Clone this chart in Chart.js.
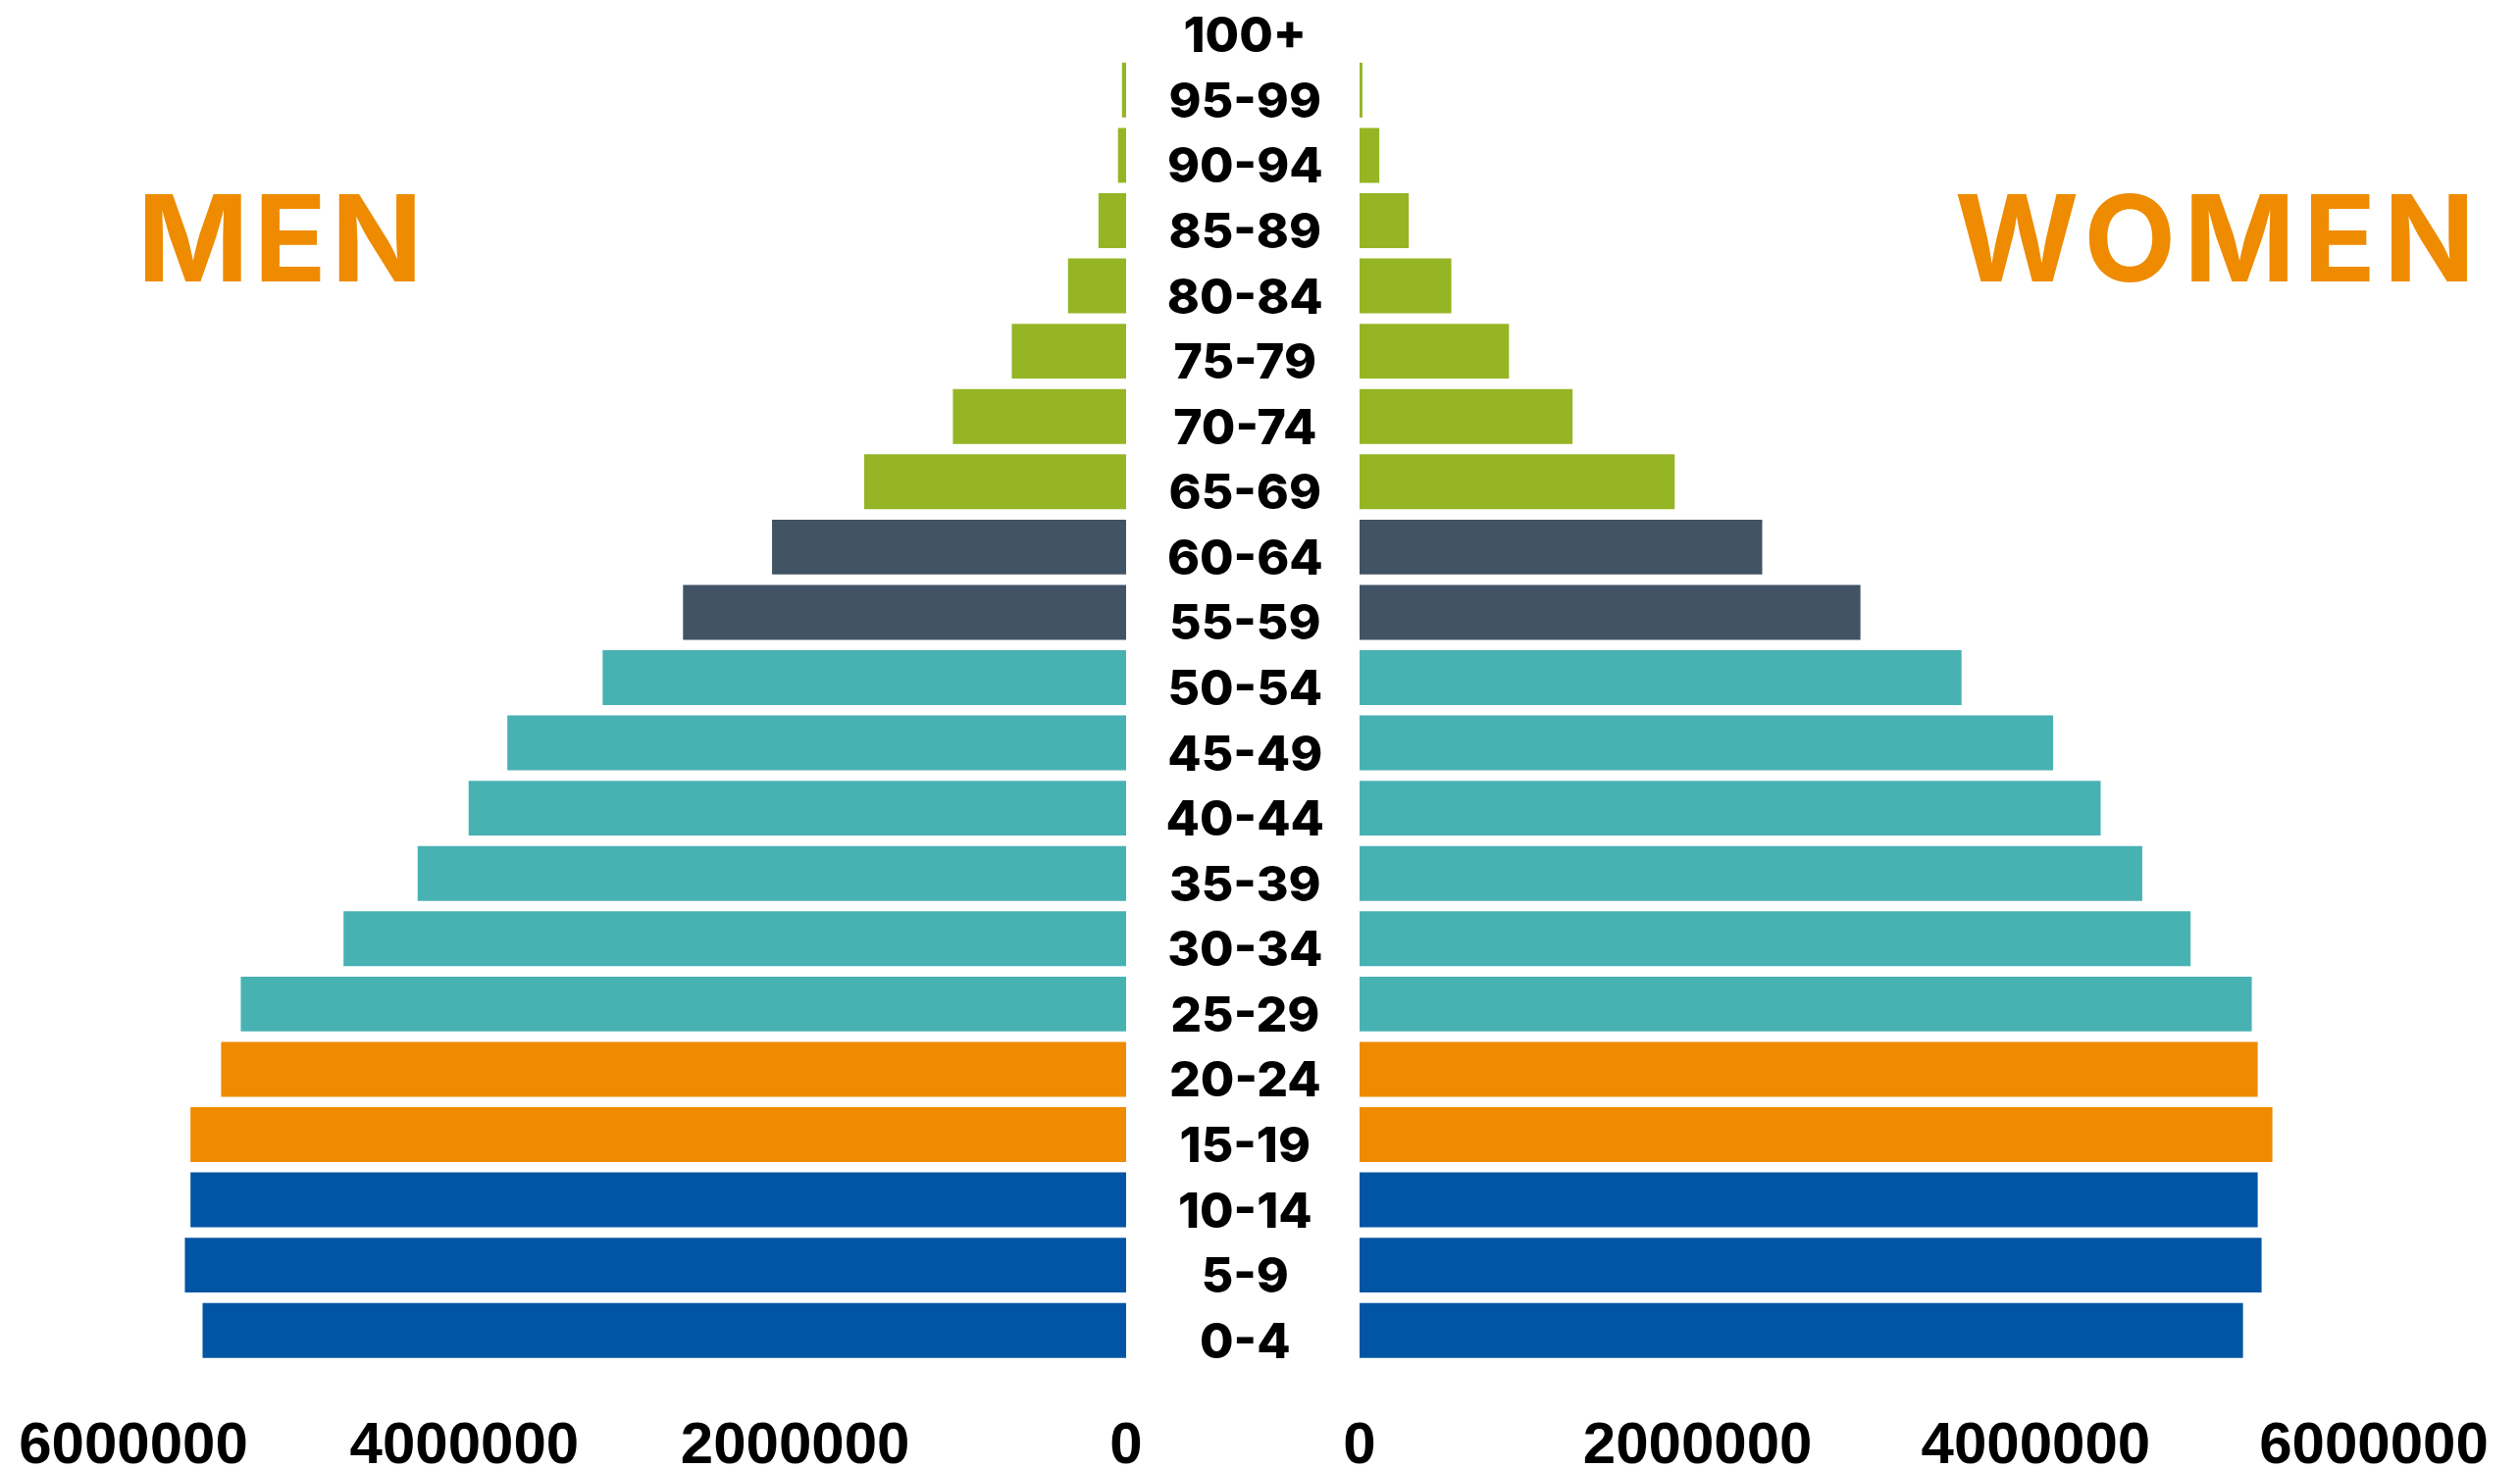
<!DOCTYPE html>
<html>
<head>
<meta charset="utf-8">
<title>Population pyramid</title>
<script src="https://cdn.jsdelivr.net/npm/chart.js@4.4.1/dist/chart.umd.min.js"></script>
<style>
  html, body { margin: 0; padding: 0; background: #fff; overflow: hidden; }
  #wrap { position: relative; width: 2569px; height: 1497px; }
  #menChart { position: absolute; left: 0; top: -8px; }
  #womenChart { position: absolute; left: 1146px; top: -8px; }
</style>
</head>
<body>
<div id="wrap">
  <canvas id="menChart" width="1170" height="1505"></canvas>
  <canvas id="womenChart" width="1423" height="1505"></canvas>
</div>
<script>
// age groups, oldest first (top of the pyramid)
const ages = ['100+', '95-99', '90-94', '85-89', '80-84', '75-79', '70-74', '65-69', '60-64',
  '55-59', '50-54', '45-49', '40-44', '35-39', '30-34', '25-29', '20-24', '15-19', '10-14', '5-9', '0-4'];

const men = [0, 25000, 49000, 167000, 351000, 691000, 1047000, 1583000, 2140000,
  2678000, 3164000, 3740000, 3974000, 4282000, 4730000, 5351000, 5470000, 5655000, 5655000, 5689000, 5582000];

const women = [0, 17000, 117000, 291000, 543000, 884000, 1260000, 1864000, 2382000,
  2963000, 3561000, 4103000, 4384000, 4630000, 4916000, 5278000, 5313000, 5400000, 5313000, 5336000, 5226000];

const axisTicks = [0, 2000000, 4000000, 6000000];

// colour by life stage
const GREEN = '#95B524', SLATE = '#415364', TEAL = '#48B2B3', ORANGE = '#EE8B00', BLUE = '#0255A3';
const barColours = ages.map((a, i) => {
  if (i <= 7) return GREEN;
  if (i <= 9) return SLATE;
  if (i <= 15) return TEAL;
  if (i <= 17) return ORANGE;
  return BLUE;
});

const tickFont = { family: '"Liberation Sans", Arial, sans-serif', size: 60, weight: 'bold' };
const ageFont = { family: 'Inter, "Noto Sans", sans-serif', size: 50, weight: '800' };

// draws the big MEN / WOMEN headings
const headingPlugin = {
  id: 'heading',
  afterDraw(chart, args, opts) {
    const ctx = chart.ctx;
    ctx.save();
    ctx.font = '700 122px Inter, "Noto Sans", sans-serif';
    ctx.letterSpacing = opts.spacing;
    ctx.fillStyle = ORANGE;
    ctx.textBaseline = 'alphabetic';
    ctx.textAlign = opts.align;
    ctx.fillText(opts.text, opts.x, opts.y);
    ctx.restore();
  }
};

function xAxis(reverse) {
  return {
    type: 'linear',
    reverse: reverse,
    min: 0,
    max: 6000000,
    afterBuildTicks: (scale) => { scale.ticks = axisTicks.map(v => ({ value: v })); },
    afterFit: (scale) => {
      scale.height = 107;
      // plot edges come from layout padding only
      scale.paddingLeft = 0;
      scale.paddingRight = 0;
    },
    grid: { display: false, drawTicks: false },
    border: { display: false },
    ticks: {
      color: '#000',
      font: tickFont,
      padding: 49,
      maxRotation: 0,
      callback: v => String(v)
    }
  };
}

function dataset(values) {
  return {
    data: values,
    backgroundColor: barColours,
    borderWidth: 0,
    barPercentage: 0.84,
    categoryPercentage: 1
  };
}

const menChart = new Chart(document.getElementById('menChart'), {
  type: 'bar',
  data: { labels: ages, datasets: [dataset(men)] },
  options: {
    indexAxis: 'y',
    responsive: false,
    animation: false,
    layout: { padding: { left: 136, right: 22, top: 0, bottom: 0 } },
    plugins: {
      legend: { display: false },
      tooltip: { enabled: false },
      heading: { text: 'MEN', x: 140, y: 295, align: 'left', spacing: '5px' }
    },
    scales: {
      x: xAxis(true),
      y: { display: false, grid: { display: false } }
    }
  },
  plugins: [headingPlugin]
});

const womenChart = new Chart(document.getElementById('womenChart'), {
  type: 'bar',
  data: { labels: ages, datasets: [dataset(women)] },
  options: {
    indexAxis: 'y',
    responsive: false,
    animation: false,
    layout: { padding: { left: 0, right: 149, top: 0, bottom: 0 } },
    plugins: {
      legend: { display: false },
      tooltip: { enabled: false },
      heading: { text: 'WOMEN', x: 1385, y: 295, align: 'right', spacing: '8px' }
    },
    scales: {
      x: xAxis(false),
      y: {
        position: 'left',
        afterFit: (scale) => {
          scale.width = 240;
          // keep the label column from pushing the plot down
          scale.paddingTop = 0;
          scale.paddingBottom = 0;
        },
        grid: { display: false, drawTicks: false },
        border: { display: false },
        ticks: {
          color: '#000',
          font: ageFont,
          crossAlign: 'center',
          padding: 36,
          labelOffset: 13,
          autoSkip: false
        }
      }
    }
  },
  plugins: [headingPlugin]
});
</script>
</body>
</html>
